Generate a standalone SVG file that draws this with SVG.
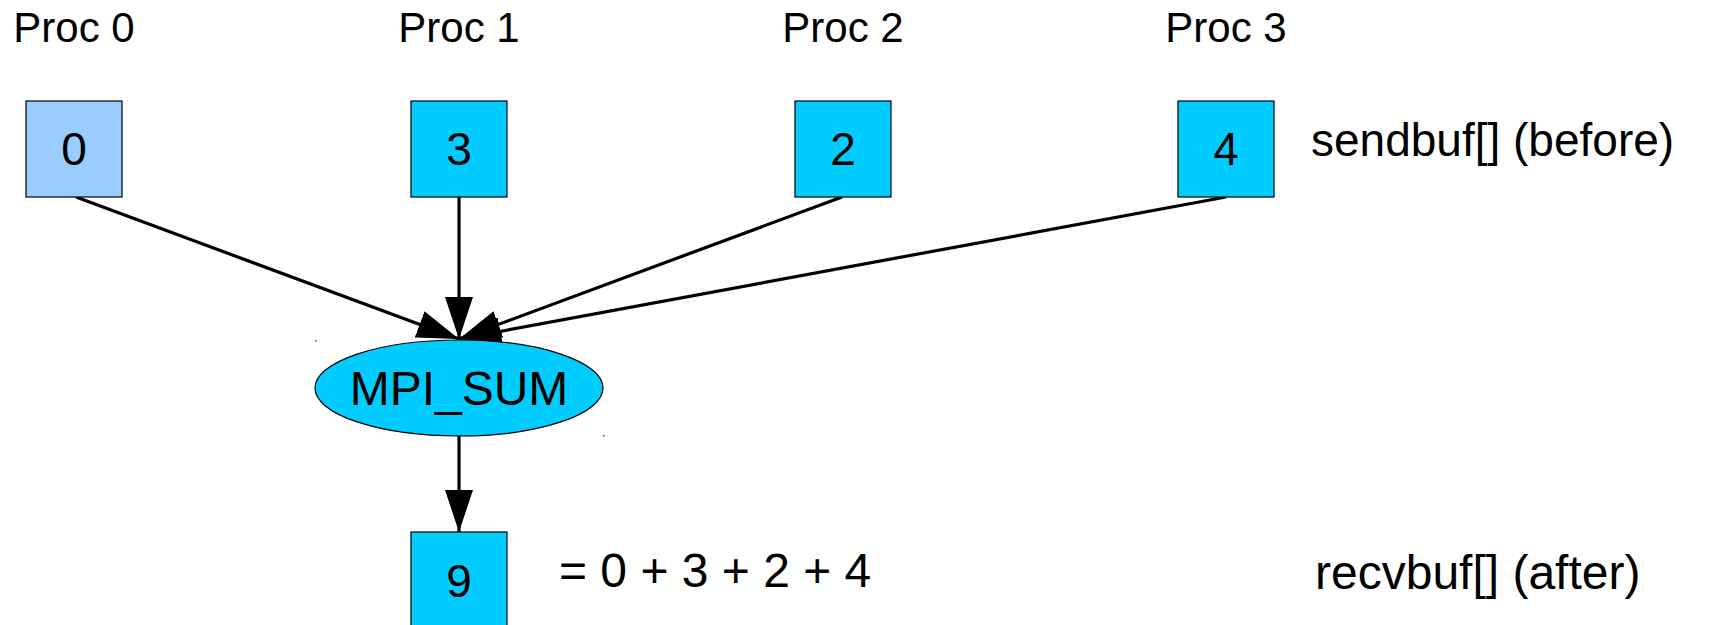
<svg xmlns="http://www.w3.org/2000/svg" width="1709" height="625" viewBox="0 0 1709 625">
<style>
text{font-family:"Liberation Sans",Arial,sans-serif;fill:#000}
.lbl{font-size:42px;text-anchor:middle}
.num{font-size:46px;text-anchor:middle}
.side{font-size:46px}
.big{font-size:48px}
.box{fill:#00ccff;stroke:#000;stroke-width:1.2}
.edge{stroke:#000;stroke-width:3.2;fill:none}
</style>
<defs>
<marker id="ah" viewBox="0 0 42 28" refX="42" refY="14" markerWidth="42" markerHeight="28" markerUnits="userSpaceOnUse" orient="auto">
<path d="M0,0 L42,14 L0,28 Z" fill="#000"/>
</marker>
</defs>
<rect width="1709" height="625" fill="#fff"/>
<g id="labels">
<text class="lbl" x="74" y="42">Proc 0</text>
<text class="lbl" x="459" y="42">Proc 1</text>
<text class="lbl" x="843" y="42">Proc 2</text>
<text class="lbl" x="1226" y="42">Proc 3</text>
<text class="side" x="1311" y="156">sendbuf[] (before)</text>
<text class="side big" x="1315" y="589">recvbuf[] (after)</text>
<text class="side big" x="559" y="587">= 0 + 3 + 2 + 4</text>
</g>
<g id="connectors">
<line class="edge" x1="76" y1="197" x2="459" y2="339" marker-end="url(#ah)"/>
<line class="edge" x1="459" y1="197" x2="459" y2="339" marker-end="url(#ah)"/>
<line class="edge" x1="842" y1="197" x2="459" y2="339" marker-end="url(#ah)"/>
<line class="edge" x1="1226" y1="197" x2="459" y2="339" marker-end="url(#ah)"/>
<line class="edge" x1="459" y1="436" x2="459" y2="532" marker-end="url(#ah)"/>
</g>
<g id="n0"><rect class="box" x="26" y="101" width="96" height="96" style="fill:#99ccff"/><text class="num" x="74" y="165">0</text></g>
<g id="n1"><rect class="box" x="411" y="101" width="96" height="96"/><text class="num" x="459" y="165">3</text></g>
<g id="n2"><rect class="box" x="795" y="101" width="96" height="96"/><text class="num" x="843" y="165">2</text></g>
<g id="n3"><rect class="box" x="1178" y="101" width="96" height="96"/><text class="num" x="1226" y="165">4</text></g>
<g id="sum"><ellipse cx="459" cy="388" rx="144" ry="48" fill="#00ccff" stroke="#000" stroke-width="1.2"/><text class="num big" x="459" y="405">MPI_SUM</text></g>
<g id="result"><rect class="box" x="411" y="532" width="96" height="100"/><text class="num" x="459" y="597">9</text></g>
<g id="marks" fill="#555"><rect x="315" y="340" width="1.5" height="1.5"/><rect x="603" y="435" width="1.5" height="1.5"/></g>
</svg>
